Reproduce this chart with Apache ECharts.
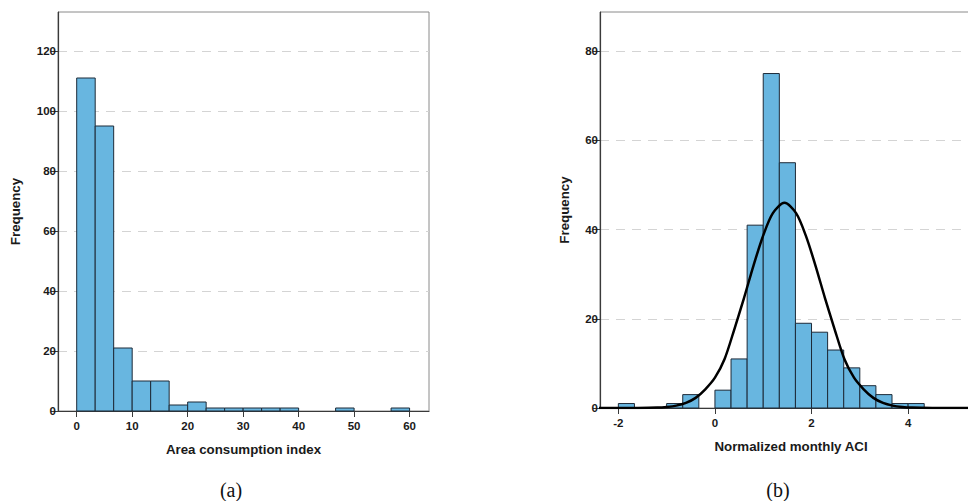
<!DOCTYPE html>
<html>
<head>
<meta charset="utf-8">
<script src="https://cdn.jsdelivr.net/npm/echarts@6/dist/echarts.min.js"></script>
<style>
html,body{margin:0;padding:0;background:#fff;}
#chart{width:968px;height:501px;}
</style>
</head>
<body>
<div id="chart"></div>
<script>
// ---- Data ----
// (a) Area consumption index histogram
const aciBinStart = 0;
const aciBinWidth = 10 / 3;
const aciCounts = [111, 95, 21, 10, 10, 2, 3, 1, 1, 1, 1, 1, 0, 0, 1, 0, 0, 1];
const aciXTicks = [0, 10, 20, 30, 40, 50, 60];
const aciYTicks = [0, 20, 40, 60, 80, 100, 120];

// (b) Normalized monthly ACI histogram
const normBinStart = -2;
const normBinWidth = 1 / 3;
const normCounts = [1, 0, 0, 1, 3, 0, 4, 11, 41, 75, 55, 19, 17, 13, 9, 5, 3, 1, 1];
const normXTicks = [-2, 0, 2, 4];
const normYTicks = [0, 20, 40, 60, 80];

// normal curve points
const curveX = [-2.4, -2.0, -1.6, -1.2, -1.0, -0.8, -0.6, -0.4, -0.2, 0.0, 0.2, 0.4, 0.6, 0.8, 1.0, 1.2, 1.44,
                1.68, 1.88, 2.08, 2.28, 2.48, 2.68, 2.88, 3.08, 3.28, 3.48, 3.68, 3.88, 4.08, 4.5, 5.0, 5.6];
const curveY = [0, 0.01, 0.02, 0.09, 0.23, 0.53, 1.14, 2.27, 4.2, 6.8, 11.0, 17.6, 24.6, 32.0, 38.7, 43.7, 46,
                43.7, 38.7, 32.0, 24.6, 17.6, 11.0, 6.8, 4.2, 2.27, 1.14, 0.53, 0.23, 0.09, 0.01, 0, 0];

const panelLabels = ['(a)', '(b)'];
const xNames = ['Area consumption index', 'Normalized monthly ACI'];
const yName = 'Frequency';

// ---- build ----
function bins(start, width, counts) {
  return counts.map((c, i) => [start + i * width, start + (i + 1) * width, c]);
}
const BAR_FILL = '#68b6e0';
const BAR_EDGE = '#1d2a38';
function renderBar(params, api) {
  const c = api.value(2);
  if (!c) return null;
  const p0 = api.coord([api.value(0), c]);
  const p1 = api.coord([api.value(1), 0]);
  return {
    type: 'rect',
    shape: { x: p0[0], y: p0[1], width: p1[0] - p0[0], height: p1[1] - p0[1] },
    style: { fill: BAR_FILL, stroke: BAR_EDGE, lineWidth: 1 }
  };
}

const FONT = 'Liberation Sans, Arial, sans-serif';
const tickLabel = { fontFamily: FONT, fontWeight: 'bold', fontSize: 11.5, color: '#1a1a1a' };
const nameStyle = { fontFamily: FONT, fontWeight: 'bold', fontSize: 13.3, color: '#1a1a1a' };

function xAxis(idx, min, max, ticks, name, gap) {
  return {
    type: 'value', gridIndex: idx, min: min, max: max,
    name: name, nameLocation: 'middle', nameGap: gap, nameTextStyle: nameStyle,
    axisLine: { show: true, onZero: false, lineStyle: { color: '#3a3a3a', width: 1.2 } },
    axisTick: { show: true, length: 6, customValues: ticks, lineStyle: { color: '#3a3a3a' } },
    axisLabel: { customValues: ticks, margin: 9, ...tickLabel },
    splitLine: { show: false }
  };
}
function yAxis(idx, max, ticks, gap) {
  return {
    type: 'value', gridIndex: idx, min: 0, max: max, interval: 20,
    name: yName, nameLocation: 'middle', nameGap: gap, nameTextStyle: nameStyle,
    axisLine: { show: true, onZero: false, lineStyle: { color: '#3a3a3a', width: 1.2 } },
    axisTick: { show: true, length: 7, customValues: ticks, lineStyle: { color: '#3a3a3a' } },
    axisLabel: { customValues: ticks, margin: 2, ...tickLabel },
    splitLine: { show: true, lineStyle: { color: '#d4d4d4', type: [9, 7], width: 1 } }
  };
}

const chart = echarts.init(document.getElementById('chart'), null, { renderer: 'svg' });
chart.setOption({
  animation: false,
  backgroundColor: '#ffffff',
  grid: [
    { left: 58, top: 12, width: 371, height: 399, show: true, borderColor: '#8a8a8a', borderWidth: 1, outerBoundsMode: 'none', containLabel: false },
    { left: 600, top: 12, width: 382, height: 396, show: true, borderColor: '#8a8a8a', borderWidth: 1, outerBoundsMode: 'none', containLabel: false }
  ],
  xAxis: [
    xAxis(0, -3.37, 63.5, aciXTicks, xNames[0], 32),
    xAxis(1, -2.38, 5.53, normXTicks, xNames[1], 32)
  ],
  yAxis: [
    yAxis(0, 133, aciYTicks, 36),
    yAxis(1, 88.8, normYTicks, 29)
  ],
  series: [
    { type: 'custom', xAxisIndex: 0, yAxisIndex: 0, renderItem: renderBar,
      encode: { x: [0, 1], y: 2 }, data: bins(aciBinStart, aciBinWidth, aciCounts), z: 3 },
    { type: 'custom', xAxisIndex: 1, yAxisIndex: 1, renderItem: renderBar,
      encode: { x: [0, 1], y: 2 }, data: bins(normBinStart, normBinWidth, normCounts), z: 3 },
    { type: 'line', xAxisIndex: 1, yAxisIndex: 1, smooth: 0.3, showSymbol: false, clip: true,
      lineStyle: { color: '#000', width: 2.5 }, data: curveX.map((x, i) => [x, curveY[i]]), z: 5 }
  ],
  graphic: [
    { type: 'text', x: 231, y: 480, style: { text: panelLabels[0], textAlign: 'center', font: '20px "Liberation Serif", "Times New Roman", serif', fill: '#111' } },
    { type: 'text', x: 778, y: 480, style: { text: panelLabels[1], textAlign: 'center', font: '20px "Liberation Serif", "Times New Roman", serif', fill: '#111' } }
  ]
});
</script>
</body>
</html>
